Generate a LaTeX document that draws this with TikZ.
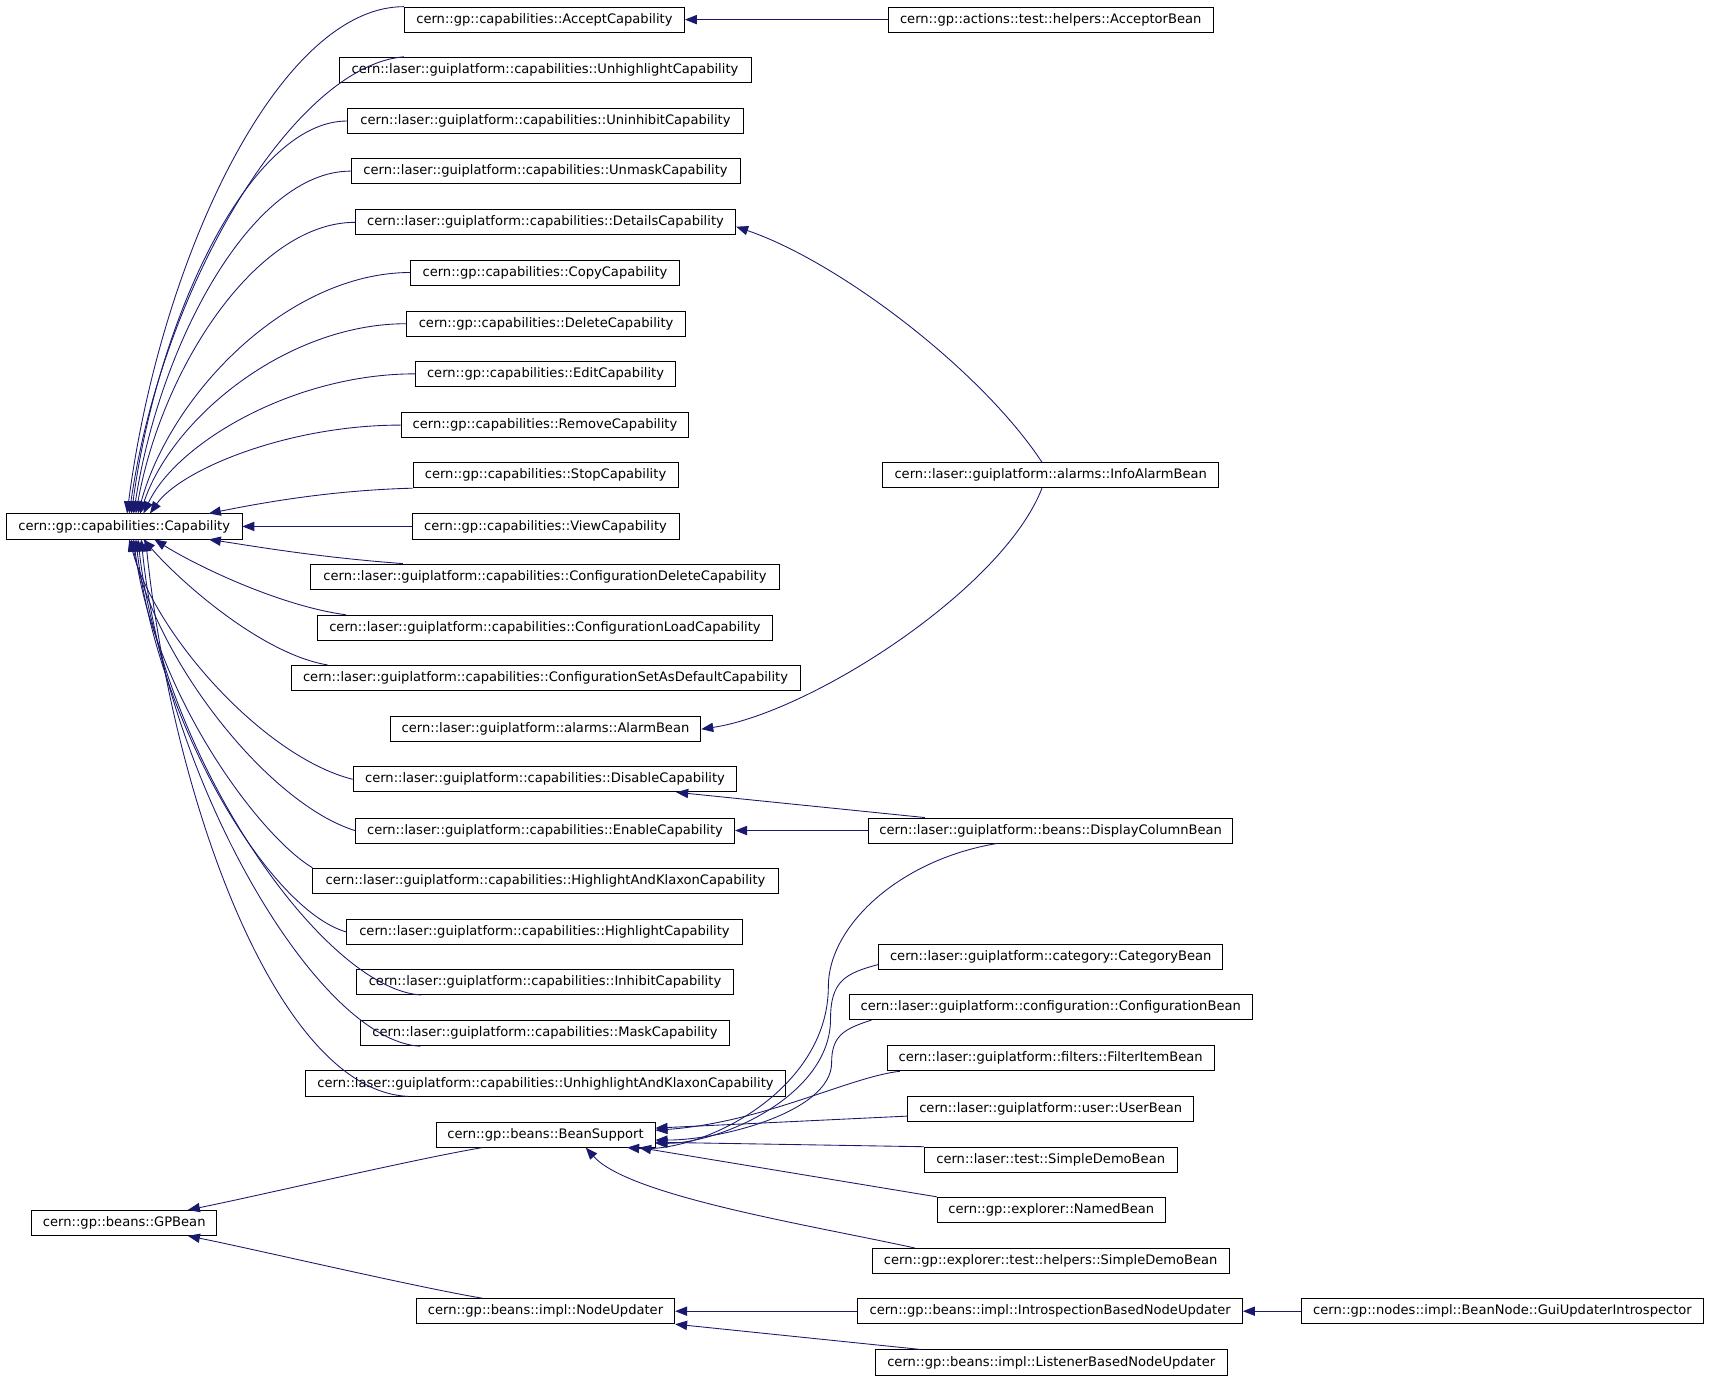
\documentclass[tikz,border=0pt]{standalone}
\usepackage{fontspec}
\setmainfont{DejaVu Sans}
\usetikzlibrary{arrows.meta}
\definecolor{edgec}{HTML}{191970}
\begin{document}
\begin{tikzpicture}[x=1pt,y=-1pt,
  box/.style={draw=black, fill=white, line width=0.8pt, minimum height=23pt, inner sep=0pt, font=\fontsize{12}{14}\selectfont},
  edge/.style={draw=edgec, line width=0.8pt, -{Triangle[length=11pt,width=8.5pt]}}]
\useasboundingbox (0,0) rectangle (1568,1267);
% left column
\node[box, minimum width=216pt] (cap) at (114,483) {cern::gp::capabilities::Capability};
\node[box, minimum width=170pt] (gpbean) at (114,1122) {cern::gp::beans::GPBean};
% middle column
\node[box, minimum width=257pt] (accept) at (499.5,18) {cern::gp::capabilities::AcceptCapability};
\node[box, minimum width=378pt] (unhl) at (500,64) {cern::laser::guiplatform::capabilities::UnhighlightCapability};
\node[box, minimum width=363pt] (uninh) at (500.5,111) {cern::laser::guiplatform::capabilities::UninhibitCapability};
\node[box, minimum width=357pt] (unmask) at (500.5,157) {cern::laser::guiplatform::capabilities::UnmaskCapability};
\node[box, minimum width=349pt] (details) at (500.5,204) {cern::laser::guiplatform::capabilities::DetailsCapability};
\node[box, minimum width=246pt] (copy) at (500,250) {cern::gp::capabilities::CopyCapability};
\node[box, minimum width=256pt] (delete) at (501,297) {cern::gp::capabilities::DeleteCapability};
\node[box, minimum width=239pt] (edit) at (500.5,343) {cern::gp::capabilities::EditCapability};
\node[box, minimum width=264pt] (remove) at (500,390) {cern::gp::capabilities::RemoveCapability};
\node[box, minimum width=243pt] (stop) at (500.5,436) {cern::gp::capabilities::StopCapability};
\node[box, minimum width=245pt] (view) at (500.5,483) {cern::gp::capabilities::ViewCapability};
\node[box, minimum width=430pt] (cfgdel) at (500,529) {cern::laser::guiplatform::capabilities::ConfigurationDeleteCapability};
\node[box, minimum width=418pt] (cfgload) at (500,576) {cern::laser::guiplatform::capabilities::ConfigurationLoadCapability};
\node[box, minimum width=467pt] (cfgset) at (500.5,622) {cern::laser::guiplatform::capabilities::ConfigurationSetAsDefaultCapability};
\node[box, minimum width=285pt] (alarm) at (500.5,669) {cern::laser::guiplatform::alarms::AlarmBean};
\node[box, minimum width=352pt] (disable) at (500,715) {cern::laser::guiplatform::capabilities::DisableCapability};
\node[box, minimum width=348pt] (enable) at (500,762) {cern::laser::guiplatform::capabilities::EnableCapability};
\node[box, minimum width=427pt] (hlk) at (500.5,808) {cern::laser::guiplatform::capabilities::HighlightAndKlaxonCapability};
\node[box, minimum width=363pt] (highlight) at (499.5,855) {cern::laser::guiplatform::capabilities::HighlightCapability};
\node[box, minimum width=346pt] (inhibit) at (500,901) {cern::laser::guiplatform::capabilities::InhibitCapability};
\node[box, minimum width=338pt] (mask) at (500,948) {cern::laser::guiplatform::capabilities::MaskCapability};
\node[box, minimum width=441pt] (unhlk) at (500.5,994) {cern::laser::guiplatform::capabilities::UnhighlightAndKlaxonCapability};
\node[box, minimum width=201pt] (beansup) at (500.5,1041) {cern::gp::beans::BeanSupport};
\node[box, minimum width=237pt] (nodeupd) at (500.5,1203) {cern::gp::beans::impl::NodeUpdater};
% right column
\node[box, minimum width=298pt] (acceptor) at (964,18) {cern::gp::actions::test::helpers::AcceptorBean};
\node[box, minimum width=308pt] (infoalarm) at (964,436) {cern::laser::guiplatform::alarms::InfoAlarmBean};
\node[box, minimum width=334pt] (dcb) at (964,762) {cern::laser::guiplatform::beans::DisplayColumnBean};
\node[box, minimum width=316pt] (category) at (964,878) {cern::laser::guiplatform::category::CategoryBean};
\node[box, minimum width=370pt] (config) at (964,924) {cern::laser::guiplatform::configuration::ConfigurationBean};
\node[box, minimum width=300pt] (filter) at (964,971) {cern::laser::guiplatform::filters::FilterItemBean};
\node[box, minimum width=262pt] (user) at (964,1017) {cern::laser::guiplatform::user::UserBean};
\node[box, minimum width=232pt] (lsdb) at (964,1064) {cern::laser::test::SimpleDemoBean};
\node[box, minimum width=209pt] (named) at (964.5,1110) {cern::gp::explorer::NamedBean};
\node[box, minimum width=328pt] (esdb) at (964,1157) {cern::gp::explorer::test::helpers::SimpleDemoBean};
\node[box, minimum width=353pt] (introspect) at (963.5,1203) {cern::gp::beans::impl::IntrospectionBasedNodeUpdater};
\node[box, minimum width=323pt] (listener) at (964.5,1250) {cern::gp::beans::impl::ListenerBasedNodeUpdater};
\node[box, minimum width=369pt] (gui) at (1378.5,1203) {cern::gp::nodes::impl::BeanNode::GuiUpdaterIntrospector};
% edges into Capability (top)
\draw[edge] (accept.north west) .. controls +(-115,0) and +(30,-233) .. ([xshift=111pt]cap.north west);
\draw[edge] ([xshift=60pt]unhl.north west) .. controls +(-100,8) and +(30,-210) .. ([xshift=113pt]cap.north west);
\draw[edge] (uninh.west) .. controls +(-89,0) and +(24,-180) .. ([xshift=115pt]cap.north west);
\draw[edge] (unmask.west) .. controls +(-90,0) and +(24,-157) .. ([xshift=117pt]cap.north west);
\draw[edge] (details.west) .. controls +(-90,0) and +(24,-134) .. ([xshift=119pt]cap.north west);
\draw[edge] (copy.west) .. controls +(-112,0) and +(30,-110) .. ([xshift=121pt]cap.north west);
\draw[edge] (delete.west) .. controls +(-110,0) and +(29,-87) .. ([xshift=123pt]cap.north west);
\draw[edge] (edit.west) .. controls +(-112,0) and +(30,-64) .. ([xshift=126pt]cap.north west);
\draw[edge] (remove.west) .. controls +(-104,0) and +(28,-40) .. ([xshift=132pt]cap.north west);
\draw[edge] (stop.south west) .. controls +(-80,2) and +(40,-8) .. ([xshift=186pt]cap.north west);
\draw[edge] (view.west) -- (cap.east);
% edges into Capability (bottom)
\draw[edge] ([xshift=85pt]cfgdel.north west) .. controls +(-80,-6) and +(40,6) .. ([xshift=186pt]cap.south west);
\draw[edge] ([xshift=27pt]cfgload.north west) .. controls +(-60,-8) and +(40,25) .. ([xshift=136pt]cap.south west);
\draw[edge] ([xshift=34pt]cfgset.north west) .. controls +(-60,-10) and +(35,40) .. ([xshift=126pt]cap.south west);
\draw[edge] (disable.west) .. controls +(-80,-20) and +(25,90) .. ([xshift=113pt]cap.south west);
\draw[edge] (enable.west) .. controls +(-80,-25) and +(22,110) .. ([xshift=115pt]cap.south west);
\draw[edge] (hlk.north west) .. controls +(-50,-30) and +(18,140) .. ([xshift=117pt]cap.south west);
\draw[edge] (highlight.west) .. controls +(-70,-20) and +(20,170) .. ([xshift=119pt]cap.south west);
\draw[edge] ([xshift=60pt]inhibit.south west) .. controls +(-90,-5) and +(22,200) .. ([xshift=121pt]cap.south west);
\draw[edge] ([xshift=55pt]mask.south west) .. controls +(-95,-5) and +(22,220) .. ([xshift=124pt]cap.south west);
\draw[edge] ([xshift=95pt]unhlk.south west) .. controls +(-120,-5) and +(25,240) .. ([xshift=128pt]cap.south west);
% right side edges
\draw[edge] (acceptor.west) -- (accept.east);
\draw[edge] ([xshift=-8pt]infoalarm.north) .. controls +(-56,-85) and +(94,32) .. ([yshift=-4pt]details.east);
\draw[edge] ([xshift=-8pt]infoalarm.south) .. controls +(-36,93) and +(100,-15) .. (alarm.east);
\draw[edge] ([xshift=52pt]dcb.north west) -- ([xshift=-56pt]disable.south east);
\draw[edge] (dcb.west) -- (enable.east);
\draw[edge] ([xshift=118pt]dcb.south west) .. controls +(-90,15) and +(0,-55) .. (760,905) .. controls +(0,95) and +(70,5) .. ([xshift=-26pt]beansup.south east);
\draw[edge] ([yshift=-7pt]category.west) .. controls +(-30,8) and +(0,-35) .. (762,935) .. controls +(0,70) and +(60,0) .. ([yshift=-8pt]beansup.east);
\draw[edge] ([xshift=21pt]config.south west) .. controls +(-25,8) and +(0,-25) .. (763,975) .. controls +(0,45) and +(60,0) .. ([yshift=-5pt]beansup.east);
\draw[edge] ([xshift=12pt]filter.south west) .. controls +(-46,5) and +(99,-7) .. ([yshift=4pt]beansup.east);
\draw[edge] ([yshift=-7pt]user.west) -- ([yshift=6pt]beansup.east);
\draw[edge] (lsdb.north west) -- ([yshift=-7pt]beansup.east);
\draw[edge] (named.north west) -- ([xshift=-15pt]beansup.south east);
\draw[edge] ([xshift=40pt]esdb.north west) .. controls +(-90,-20) and +(40,45) .. ([xshift=-64pt]beansup.south east);
\draw[edge] ([xshift=43pt]beansup.south west) .. controls +(-60,10) and +(60,-12) .. ([xshift=-27pt]gpbean.north east);
\draw[edge] ([xshift=61pt]nodeupd.north west) .. controls +(-60,-10) and +(60,12) .. ([xshift=-27pt]gpbean.south east);
\draw[edge] (introspect.west) -- (nodeupd.east);
\draw[edge] ([xshift=42pt]listener.north west) -- (nodeupd.south east);
\draw[edge] (gui.west) -- (introspect.east);
\end{tikzpicture}
\end{document}
